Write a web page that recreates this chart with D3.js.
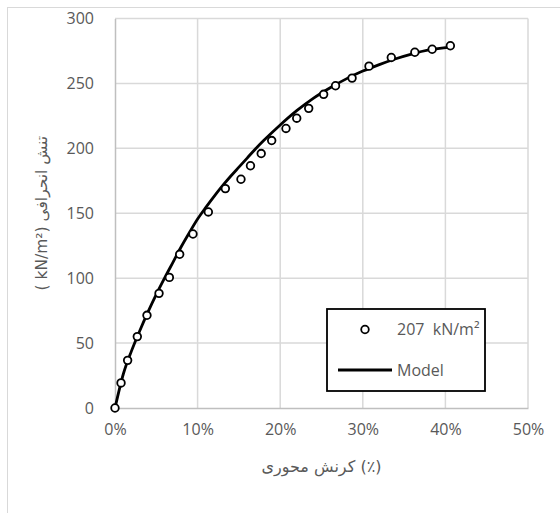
<!DOCTYPE html>
<html>
<head>
<meta charset="utf-8">
<script src="https://cdn.jsdelivr.net/npm/d3@7"></script>
<style>
  html, body { margin: 0; padding: 0; background: #fff; }
  svg { display: block; }
</style>
</head>
<body>
<svg id="chart" width="560" height="513"></svg>
<script>
// ---- data ----
const pointStrain = [0, 0.73, 1.53, 2.7, 3.87, 5.33, 6.58, 7.83, 9.44, 11.3, 13.36, 15.25, 16.4, 17.7, 18.97, 20.7, 22.0, 23.45, 25.26, 26.7, 28.7, 30.75, 33.45, 36.3, 38.4, 40.6];
const pointStress = [0, 19.3, 36.7, 55, 71.4, 88.3, 100.6, 118.4, 134, 151, 169, 176.2, 186.6, 196, 206, 215.3, 223.2, 230.8, 241.6, 248.2, 254.1, 263.3, 270, 274, 276.3, 279];
const modelStrain = [0, 1, 2, 3, 4, 5, 6, 7, 8, 9, 10, 11, 12, 13, 14, 15, 16, 17, 18, 20, 22, 24, 26, 28, 30, 32, 34, 36, 38, 40.6];
const modelStress = [0, 26, 44, 59.5, 74, 87.5, 100, 112, 124, 135, 145.5, 154.5, 163, 171, 178.5, 185.5, 192.5, 199.5, 206, 218, 229, 238.5, 246.5, 253.5, 259.5, 264.5, 269, 272.8, 275.8, 278];
const xTicks = [0, 10, 20, 30, 40, 50];
const yTicks = [0, 50, 100, 150, 200, 250, 300];
const seriesNames = ["207  kN/m²", "Model"];
const xTitle = "کرنش محوری (٪)";
const yTitle = "( kN/m²) تنش انحرافی";

// ---- drawing ----
const svg = d3.select("#chart");
const x = d3.scaleLinear().domain([0, 50]).range([115, 528]);
const y = d3.scaleLinear().domain([0, 300]).range([408, 18.5]);
const tickFont = "'Open Sans', sans-serif";
const gray = "#595959";

// outer chart border
svg.append("rect").attr("x", 7.5).attr("y", 7.5).attr("width", 700).attr("height", 700)
  .attr("fill", "#fff").attr("stroke", "#d9d9d9").attr("stroke-width", 1);

// gridlines
const grid = svg.append("g");
grid.selectAll("line.v").data(xTicks.slice(1)).join("line")
  .attr("x1", d => x(d)).attr("x2", d => x(d))
  .attr("y1", y(0)).attr("y2", y(300))
  .attr("stroke", "#d9d9d9").attr("stroke-width", 1.5);
grid.selectAll("line.h").data(yTicks.slice(1)).join("line")
  .attr("x1", x(0)).attr("x2", x(50))
  .attr("y1", d => y(d)).attr("y2", d => y(d))
  .attr("stroke", "#d9d9d9").attr("stroke-width", 1.5);

// axes
const xAxis = svg.append("g").attr("transform", `translate(0,${y(0)})`)
  .call(d3.axisBottom(x).tickValues(xTicks).tickFormat(d => d + "%").tickSize(0).tickPadding(16));
const yAxis = svg.append("g").attr("transform", `translate(${x(0)},0)`)
  .call(d3.axisLeft(y).tickValues(yTicks).tickSize(0).tickPadding(21));
[xAxis, yAxis].forEach(a => {
  a.select(".domain").attr("stroke", "#bfbfbf").attr("stroke-width", 1.5);
  a.selectAll("text").attr("fill", gray).style("font-family", tickFont).style("font-size", "16px");
});

// model line
const line = d3.line().x(d => x(d[0])).y(d => y(d[1])).curve(d3.curveMonotoneX);
svg.append("path").datum(modelStrain.map((s, i) => [s, modelStress[i]]))
  .attr("d", line).attr("fill", "none").attr("stroke", "#000").attr("stroke-width", 2.8);

// points
svg.append("g").selectAll("circle").data(pointStrain.map((s, i) => [s, pointStress[i]])).join("circle")
  .attr("cx", d => x(d[0])).attr("cy", d => y(d[1])).attr("r", 3.8)
  .attr("fill", "#fff").attr("stroke", "#000").attr("stroke-width", 1.8);

// axis titles
svg.append("text").attr("x", (x(0) + x(50)) / 2).attr("y", 472)
  .attr("text-anchor", "middle").attr("fill", gray)
  .style("font-family", "'DejaVu Sans', sans-serif").style("font-size", "16px")
  .text(xTitle);
svg.append("text").attr("transform", `translate(47,${(y(0) + y(300)) / 2}) rotate(-90)`)
  .attr("text-anchor", "middle").attr("fill", gray)
  .style("font-family", "'DejaVu Sans', sans-serif").style("font-size", "15.5px")
  .text(yTitle);

// legend
const lg = svg.append("g");
lg.append("rect").attr("x", 327).attr("y", 309).attr("width", 158).attr("height", 82)
  .attr("fill", "#fff").attr("stroke", "#000").attr("stroke-width", 1.8);
lg.append("circle").attr("cx", 365).attr("cy", 329.5).attr("r", 3.8)
  .attr("fill", "#fff").attr("stroke", "#000").attr("stroke-width", 1.8);
lg.append("line").attr("x1", 338).attr("x2", 392).attr("y1", 370).attr("y2", 370)
  .attr("stroke", "#000").attr("stroke-width", 2.8);
lg.selectAll("text").data(seriesNames).join("text")
  .attr("x", 397).attr("y", (d, i) => i === 0 ? 329.5 : 370)
  .attr("dy", "0.35em").attr("fill", gray)
  .style("font-family", tickFont).style("font-size", "16px")
  .style("white-space", "pre").attr("xml:space", "preserve")
  .text(d => d);
</script>
</body>
</html>
